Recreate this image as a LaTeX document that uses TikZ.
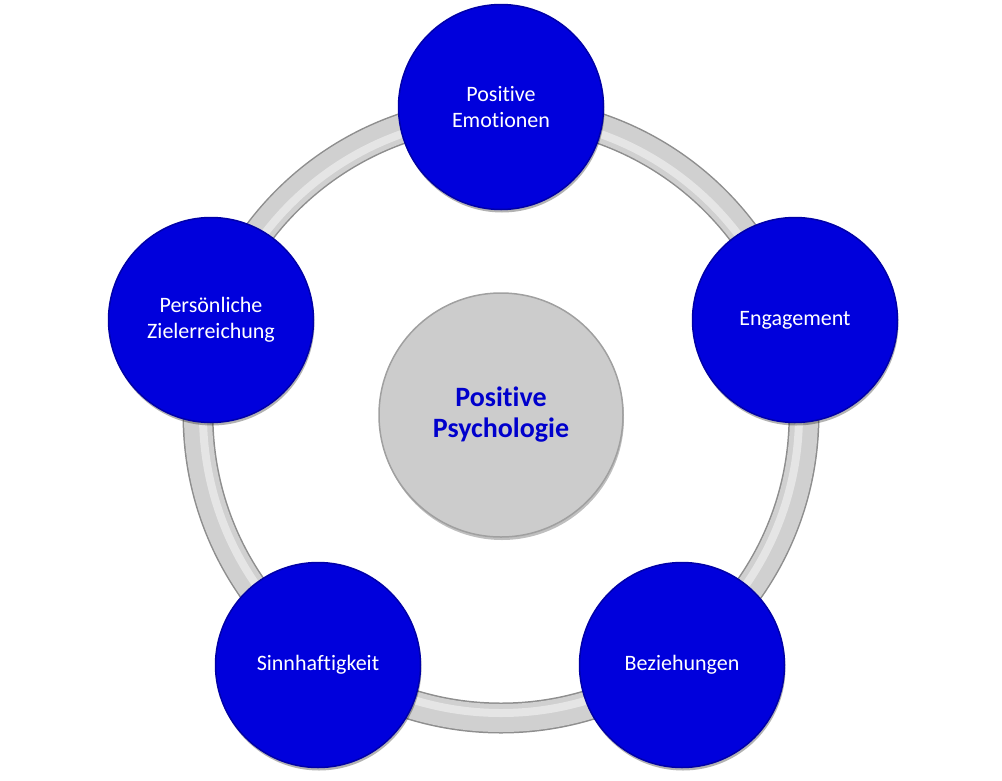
\documentclass[tikz,border=0pt]{standalone}
\usepackage{fontspec}
\setmainfont{Carlito}[RawFeature=-liga]
\usepackage{xcolor}
\definecolor{ppblue}{HTML}{0000DC}
\definecolor{ppedge}{HTML}{0000A8}
\definecolor{pphub}{HTML}{CCCCCC}
\definecolor{pphubedge}{HTML}{A0A0A0}
\definecolor{pptext}{HTML}{0000CC}
\definecolor{ppring}{HTML}{D0D0D0}
\definecolor{ppringedge}{HTML}{8E8E8E}
\usepackage{tikz}
\usetikzlibrary{shadows}

\begin{document}
\begin{tikzpicture}[x=1pt,y=-1pt,
  pillar/.style={circle,draw=ppedge,line width=1.5pt,fill=ppblue,minimum size=205pt,inner sep=0pt,
    text=white,align=center,font=\fontsize{22}{26}\selectfont,
    drop shadow={shadow xshift=1pt,shadow yshift=-3pt,opacity=0.3,fill=black}},
  hub/.style={circle,draw=pphubedge,line width=1.5pt,fill=pphub,minimum size=244pt,inner sep=0pt,
    text=pptext,align=center,font=\fontsize{28}{31}\selectfont\bfseries,
    drop shadow={shadow xshift=1pt,shadow yshift=-3pt,opacity=0.25,fill=black}}]
\useasboundingbox (0,0) rectangle (1002,780);
\coordinate (mid) at (501,415);
% ring behind the circles
\draw[line width=31pt,ppringedge] (mid) circle[radius=303];
\draw[line width=28pt,ppring] (mid) circle[radius=303];
\draw[line width=8pt,white!45!ppring] (mid) circle[radius=298];
% centre
\node[hub] (psych) at (mid) {Positive\\Psychologie};
% outer circles
\node[pillar] (emot) at (501,107) {Positive\\Emotionen};
\node[pillar] (engag) at (795,320) {Engagement};
\node[pillar] (bezieh) at (682,665) {Beziehungen};
\node[pillar] (sinn) at (318,665) {Sinnhaftigkeit};
\node[pillar] (ziel) at (211,320) {Persönliche\\Zielerreichung};
\end{tikzpicture}
\end{document}
